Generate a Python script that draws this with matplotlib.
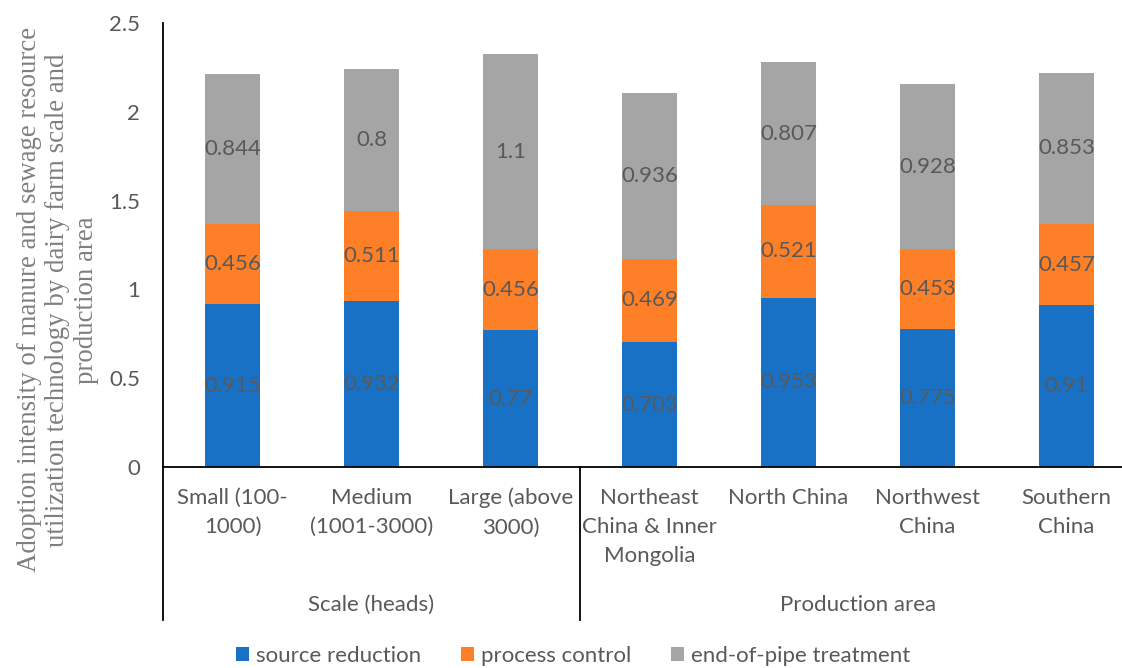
import matplotlib
matplotlib.use("Agg")
import matplotlib.pyplot as plt
from matplotlib.transforms import blended_transform_factory
from matplotlib.patches import Patch
from matplotlib.lines import Line2D

categories = ["Small (100-\n1000)", "Medium\n(1001-3000)", "Large (above\n3000)",
              "Northeast\nChina & Inner\nMongolia", "North China", "Northwest\nChina", "Southern\nChina"]
groups = ["Scale (heads)", "Production area"]
group_sizes = [3, 4]
series_names = ["source reduction", "process control", "end-of-pipe treatment"]
source_reduction = [0.915, 0.932, 0.77, 0.703, 0.953, 0.775, 0.91]
process_control = [0.456, 0.511, 0.456, 0.469, 0.521, 0.453, 0.457]
end_of_pipe = [0.844, 0.8, 1.1, 0.936, 0.807, 0.928, 0.853]
yticks = [0, 0.5, 1, 1.5, 2, 2.5]
ytick_labels = ["0", "0.5", "1", "1.5", "2", "2.5"]

colors = ["#1971C6", "#FD7F27", "#A5A5A5"]
txt_color = "#595959"
W, H = 1122, 668
font = "Lato"
fs = 16

fig = plt.figure(figsize=(W / 100, H / 100), dpi=100)
ax_left, ax_bottom, ax_top = 163, 467, 23
ax_width = 7 * 139
ax = fig.add_axes([ax_left / W, 1 - ax_bottom / H, ax_width / W, (ax_bottom - ax_top) / H])

x = list(range(len(categories)))
bottoms = [0.0] * len(categories)
for vals, col in zip([source_reduction, process_control, end_of_pipe], colors):
    ax.bar(x, vals, width=0.4, bottom=bottoms, color=col, zorder=2)
    for xi, v, b in zip(x, vals, bottoms):
        ax.text(xi, b + v / 2, f"{v:g}", ha="center", va="center", fontsize=fs,
                color=txt_color, family=font, zorder=3)
    bottoms = [b + v for b, v in zip(bottoms, vals)]

ax.set_xlim(-0.5, len(categories) - 0.5)
ax.set_ylim(0, 2.5)
ax.set_yticks(yticks)
ax.set_yticklabels(ytick_labels, family=font, fontsize=fs, color=txt_color)
ax.tick_params(axis="y", length=0, pad=16.5)
ax.set_xticks(x)
ax.set_xticklabels(categories, family=font, fontsize=fs, color=txt_color, linespacing=1.58, va="top")
ax.tick_params(axis="x", length=0, pad=15)
for s in ["top", "right"]:
    ax.spines[s].set_visible(False)
ax.spines["left"].set_color("black")
ax.spines["bottom"].set_color("black")
ax.spines["left"].set_linewidth(1.3)
ax.spines["bottom"].set_linewidth(1.3)

# group separators and labels
tr = blended_transform_factory(ax.transData, ax.transAxes)
sep_bottom = -(620 - 467) / (ax_bottom - ax_top)
bounds = [-0.5]
for gs in group_sizes:
    bounds.append(bounds[-1] + gs)
for b in bounds:
    ax.add_line(Line2D([b, b], [0, sep_bottom], transform=tr, color="black", lw=1.3, clip_on=False))
for g, a, b in zip(groups, bounds[:-1], bounds[1:]):
    ax.text((a + b) / 2, -(605 - 467) / (ax_bottom - ax_top), g, transform=tr, ha="center",
            va="center", fontsize=fs, color=txt_color, family=font)

# y label
fig.text(58 / W, 1 - 300 / H,
         "Adoption intensity of manure and sewage resource\nutilization technology by dairy farm scale and\nproduction area",
         rotation=90, ha="center", va="center", multialignment="center", fontsize=19.4,
         family="Liberation Serif", color="#7F7F7F", linespacing=1.17)

handles = [Patch(facecolor=c, edgecolor="none") for c in colors]
fig.legend(handles, series_names, loc="center", bbox_to_anchor=(573 / W, 1 - 656 / H), ncol=3,
           frameon=False, prop={"family": font, "size": fs}, labelcolor=txt_color,
           handlelength=0.6, handleheight=0.6, handletextpad=0.3, columnspacing=1.8)

fig.savefig("out.png", dpi=100)
